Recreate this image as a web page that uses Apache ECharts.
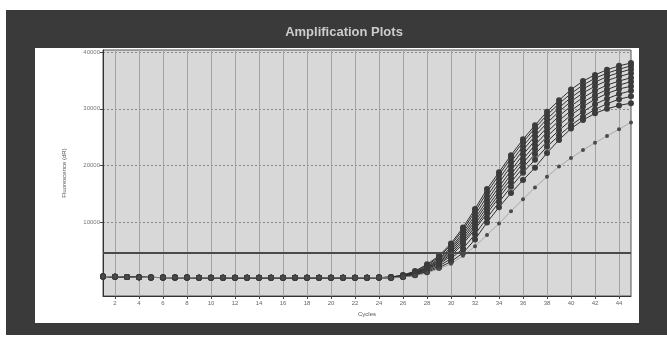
<!DOCTYPE html>
<html>
<head>
<meta charset="utf-8">
<title>Amplification Plots</title>
<script src="https://cdn.jsdelivr.net/npm/echarts@6/dist/echarts.min.js"></script>
<style>
  html, body { margin: 0; padding: 0; background: #fff; }
  #main { width: 667px; height: 337px; }
</style>
</head>
<body>
<div id="main"></div>
<script>
// cycle numbers on the x axis
const cycles = [1, 2, 3, 4, 5, 6, 7, 8, 9, 10, 11, 12, 13, 14, 15, 16, 17, 18, 19, 20,
  21, 22, 23, 24, 25, 26, 27, 28, 29, 30, 31, 32, 33, 34, 35, 36, 37, 38, 39, 40,
  41, 42, 43, 44, 45];
const xTicks = [2, 4, 6, 8, 10, 12, 14, 16, 18, 20, 22, 24, 26, 28, 30, 32, 34, 36, 38, 40, 42, 44];
const yTicks = [10000, 20000, 30000, 40000];
const threshold = 4500;

// cycles 1-24, all wells sit on the same flat line
const baseline = [350, 300, 250, 200, 180, 160, 150, 150, 140, 140, 130, 130,
  130, 120, 120, 120, 120, 110, 110, 110, 110, 120, 130, 150];

// cycles 25-45 for each well
const well1 = [250, 600, 1300, 2500, 4000, 6200, 9000, 12300, 15800, 18800, 21800, 24600, 27100, 29500, 31500, 33400, 34900, 36000, 36900, 37600, 38100];
const well2 = [250, 550, 1200, 2300, 3800, 5900, 8600, 11800, 15200, 18300, 21300, 24100, 26600, 28900, 30900, 32700, 34200, 35400, 36300, 37000, 37600];
const well3 = [200, 500, 1100, 2100, 3500, 5500, 8100, 11200, 14500, 17600, 20600, 23400, 25900, 28200, 30200, 32000, 33500, 34700, 35700, 36400, 37000];
const well4 = [200, 450, 1000, 1900, 3300, 5200, 7700, 10600, 13800, 16900, 19900, 22700, 25200, 27500, 29500, 31300, 32800, 34000, 35000, 35700, 36300];
const well5 = [180, 400, 900, 1800, 3100, 4900, 7300, 10100, 13200, 16200, 19100, 21900, 24400, 26700, 28700, 30500, 32000, 33200, 34200, 34900, 35500];
const well6 = [150, 380, 850, 1700, 2900, 4600, 6900, 9600, 12600, 15500, 18400, 21100, 23600, 25900, 27900, 29700, 31200, 32400, 33400, 34200, 34800];
const well7 = [150, 350, 800, 1600, 2700, 4300, 6500, 9100, 12000, 14900, 17700, 20400, 22900, 25100, 27100, 28900, 30400, 31700, 32700, 33500, 34000];
const well8 = [120, 300, 700, 1400, 2500, 4000, 6100, 8700, 11500, 14300, 17000, 19600, 22000, 24200, 26200, 28000, 29500, 30800, 31800, 32600, 33200];
const well9 = [110, 280, 620, 1250, 2200, 3500, 5300, 7800, 10700, 13500, 16200, 18700, 21000, 23300, 25300, 27100, 28600, 29900, 30900, 31700, 32200];
const well10 = [100, 250, 550, 1100, 1900, 3000, 4500, 6900, 9900, 12600, 15100, 17400, 19600, 22200, 24500, 26500, 28000, 29200, 30000, 30600, 31000];
const lateWell = [100, 250, 500, 1000, 1700, 2600, 4000, 5700, 7700, 9700, 11900, 14000, 16100, 18000, 19800, 21300, 22700, 24000, 25200, 26400, 27600];

const wells = [well1, well2, well3, well4, well5, well6, well7, well8, well9, well10];

function toPoints(rise) {
  const vals = baseline.concat(rise);
  return cycles.map((c, i) => [c, vals[i]]);
}

const series = wells.map((w) => ({
  type: 'line',
  data: toPoints(w),
  symbol: 'circle',
  symbolSize: 6,
  showSymbol: true,
  silent: true,
  z: 3,
  lineStyle: { color: '#2e2e2e', width: 1 },
  itemStyle: { color: '#3c3c3c' }
}));

series.push({
  type: 'line',
  data: toPoints(lateWell),
  symbol: 'circle',
  symbolSize: 4,
  silent: true,
  z: 3,
  lineStyle: { color: '#9a9a9a', width: 0.8 },
  itemStyle: { color: '#4a4a4a' },
  markLine: {
    silent: true,
    symbol: 'none',
    label: { show: false },
    lineStyle: { color: '#4a4a4a', width: 2, type: 'solid' },
    data: [{ yAxis: threshold }]
  }
});

const chart = echarts.init(document.getElementById('main'));
chart.setOption({
  animation: false,
  graphic: [
    { type: 'rect', z: -10, shape: { x: 6, y: 10, width: 661, height: 325 }, style: { fill: '#3a3a3a' } },
    { type: 'rect', z: -9, shape: { x: 35, y: 48, width: 604, height: 275 }, style: { fill: '#ffffff' } }
  ],
  title: {
    text: 'Amplification Plots',
    left: 339,
    top: 21,
    textAlign: 'center',
    textStyle: { color: '#cccccc', fontSize: 13, fontWeight: 'bold', fontFamily: 'Liberation Sans' }
  },
  grid: {
    left: 103, top: 50, right: 36, bottom: 41,
    show: true,
    backgroundColor: '#d8d8d8',
    borderColor: '#555',
    borderWidth: 1
  },
  xAxis: {
    type: 'value',
    min: 1,
    max: 45,
    name: 'Cycles',
    nameLocation: 'middle',
    nameGap: 13,
    nameTextStyle: { fontSize: 6, color: '#555', fontFamily: 'Liberation Sans' },
    axisLine: { onZero: false, lineStyle: { color: '#333' } },
    axisTick: { show: true, customValues: xTicks, length: 3, lineStyle: { color: '#444' } },
    axisLabel: { customValues: xTicks, fontSize: 6, color: '#666', margin: 4, fontFamily: 'Liberation Sans' },
    splitLine: { show: true, lineStyle: { color: '#a4a4a4', width: 1 } }
  },
  yAxis: {
    type: 'value',
    min: -3100,
    max: 40400,
    name: 'Fluorescence (dR)',
    nameLocation: 'middle',
    nameGap: 36,
    nameTextStyle: { fontSize: 6, color: '#555', fontFamily: 'Liberation Sans' },
    axisLine: { show: true, onZero: false, lineStyle: { color: '#333' } },
    axisTick: { show: true, customValues: yTicks, length: 3, lineStyle: { color: '#444' } },
    axisLabel: {
      customValues: yTicks, fontSize: 6, color: '#777', margin: 3, fontFamily: 'Liberation Sans',
      formatter: (v) => String(v)
    },
    splitLine: { show: true, lineStyle: { color: '#8a8a8a', type: [2, 2], width: 1 } }
  },
  series: series
});
</script>
</body>
</html>
